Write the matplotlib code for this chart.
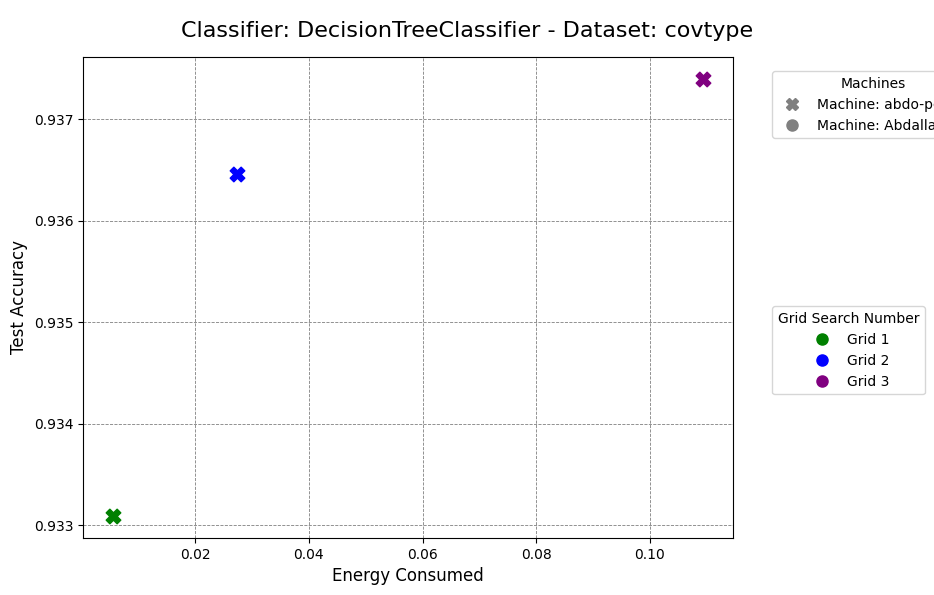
import matplotlib.pyplot as plt
from matplotlib.lines import Line2D

grids = ['Grid 1', 'Grid 2', 'Grid 3']
colors = ['green', 'blue', 'purple']
energy = [0.0055, 0.0274, 0.1094]
accuracy = [0.93309, 0.93646, 0.93740]
machines = ['Machine: abdo-pc', 'Machine: Abdallah-PC']

fig = plt.figure(figsize=(9.34, 5.95), dpi=100)
ax = fig.add_axes([83/934, 57/595, 650/934, 481/595])

for e, a, c in zip(energy, accuracy, colors):
    ax.scatter(e, a, color=c, marker='X', s=110, zorder=3)

ax.grid(True, color='gray', linestyle='--', linewidth=0.6)
ax.set_xlabel('Energy Consumed', fontsize=12)
ax.set_ylabel('Test Accuracy', fontsize=12)
ax.set_xticks([0.02, 0.04, 0.06, 0.08, 0.10])
ax.set_yticks([0.933, 0.934, 0.935, 0.936, 0.937])
fig.suptitle('Classifier: DecisionTreeClassifier - Dataset: covtype', fontsize=16, y=0.965)

m_handles = [Line2D([], [], marker='X', color='gray', linestyle='', markersize=8),
             Line2D([], [], marker='o', color='gray', linestyle='', markersize=8)]
leg1 = ax.legend(m_handles, machines, title='Machines', loc='upper left',
                 bbox_to_anchor=(1.05, 0.985))
ax.add_artist(leg1)

g_handles = [Line2D([], [], marker='o', color=c, linestyle='', markersize=8) for c in colors]
ax.legend(g_handles, grids, title='Grid Search Number', loc='center left',
          bbox_to_anchor=(1.05, 0.39))

fig.savefig('out.png', dpi=100)
